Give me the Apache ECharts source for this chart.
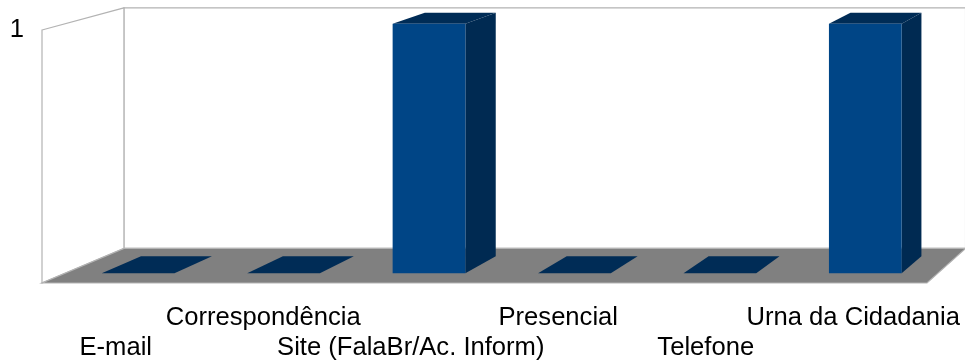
<!DOCTYPE html>
<html>
<head>
<meta charset="utf-8">
<script src="https://cdn.jsdelivr.net/npm/echarts@6/dist/echarts.min.js"></script>
<style>
  html, body { margin: 0; padding: 0; background: #fff; }
  #chart { width: 965px; height: 363px; }
</style>
</head>
<body>
<div id="chart"></div>
<script>
// Channels and their counts
const categories = ['E-mail', 'Correspondência', 'Site (FalaBr/Ac. Inform)', 'Presencial', 'Telefone', 'Urna da Cidadania'];
const values = [0, 0, 1, 0, 0, 1];
const valueTicks = [0, 1];

// Perspective depth factors (1 = front plane of the axes)
const S_BAR_FRONT = 0.986;
const S_BAR_BACK = 0.962;
const S_FLOOR = 0.951;

const FRONT = '#004586';
const SIDE = '#002a52';
const TOP = '#002c56';
const WALL_LINE = '#b3b3b3';
const FLOOR = '#808080';
const LABEL_SIZE = 25.6;

function vanishing(cs) {
  return [cs.x + 1.889 * cs.width, cs.y - 1.787 * cs.height];
}
function proj(vp, x, y, s) {
  return [vp[0] + s * (x - vp[0]), vp[1] + s * (y - vp[1])];
}

const chart = echarts.init(document.getElementById('chart'), null, { renderer: 'canvas' });

chart.setOption({
  animation: false,
  backgroundColor: '#ffffff',
  textStyle: { fontFamily: 'Liberation Sans' },
  grid: { left: 42, right: 38, top: 30, bottom: 80, containLabel: false },
  xAxis: {
    type: 'category',
    data: categories,
    axisLine: { show: false },
    axisTick: { show: false },
    splitLine: { show: false },
    axisLabel: {
      interval: 0,
      margin: 20,
      fontSize: LABEL_SIZE,
      lineHeight: 30,
      color: '#000',
      fontFamily: 'Liberation Sans',
      formatter: function (val, idx) { return idx % 2 === 0 ? '\n' + val : val; }
    }
  },
  yAxis: {
    type: 'value',
    min: valueTicks[0],
    max: valueTicks[valueTicks.length - 1],
    interval: 1,
    axisLine: { show: false },
    axisTick: { show: false },
    splitLine: { show: false },
    axisLabel: {
      showMinLabel: false,
      margin: 18,
      fontSize: LABEL_SIZE,
      color: '#000',
      fontFamily: 'Liberation Sans'
    }
  },
  series: [
    {
      // walls and floor of the 3D box
      type: 'custom',
      z: 1,
      silent: true,
      data: [[0]],
      renderItem: function (params, api) {
        const cs = params.coordSys;
        const vp = vanishing(cs);
        const x0 = cs.x, x1 = cs.x + cs.width, y0 = cs.y, y1 = cs.y + cs.height;
        const bTL = proj(vp, x0, y0, S_FLOOR), bTR = proj(vp, x1, y0, S_FLOOR);
        const bBL = proj(vp, x0, y1, S_FLOOR), bBR = proj(vp, x1, y1, S_FLOOR);
        return {
          type: 'group',
          children: [
            { type: 'polygon', shape: { points: [bTL, bTR, bBR, bBL] },
              style: { fill: '#fff', stroke: WALL_LINE, lineWidth: 1.2 } },
            { type: 'polygon', shape: { points: [[x0, y0], bTL, bBL, [x0, y1]] },
              style: { fill: '#fff', stroke: WALL_LINE, lineWidth: 1.2 } },
            { type: 'polygon', shape: { points: [[x0, y1], [x1, y1], bBR, bBL] },
              style: { fill: FLOOR, stroke: WALL_LINE, lineWidth: 1.2 } }
          ]
        };
      }
    },
    {
      // 3D bars
      type: 'custom',
      z: 2,
      data: values.map(function (v, i) { return [i, v]; }),
      encode: { x: 0, y: 1 },
      renderItem: function (params, api) {
        const cs = params.coordSys;
        const vp = vanishing(cs);
        const i = api.value(0), v = api.value(1);
        const base = api.coord([i, 0]);
        const top = api.coord([i, v]);
        const w = api.size([1, 0])[0] * 0.5;
        const xl = base[0] - w / 2, xr = base[0] + w / 2;
        const yb = base[1], yt = top[1];
        const fTL = proj(vp, xl, yt, S_BAR_FRONT), fTR = proj(vp, xr, yt, S_BAR_FRONT);
        const fBL = proj(vp, xl, yb, S_BAR_FRONT), fBR = proj(vp, xr, yb, S_BAR_FRONT);
        const kTL = proj(vp, xl, yt, S_BAR_BACK), kTR = proj(vp, xr, yt, S_BAR_BACK);
        const kBR = proj(vp, xr, yb, S_BAR_BACK);
        const children = [
          { type: 'polygon', shape: { points: [fTL, fTR, kTR, kTL] },
            style: { fill: TOP } }
        ];
        if (v > 0) {
          children.push(
            { type: 'polygon', shape: { points: [fTR, kTR, kBR, fBR] }, style: { fill: SIDE } },
            { type: 'polygon', shape: { points: [fTL, fTR, fBR, fBL] }, style: { fill: FRONT } }
          );
        }
        return { type: 'group', children: children };
      }
    }
  ]
});
</script>
</body>
</html>
